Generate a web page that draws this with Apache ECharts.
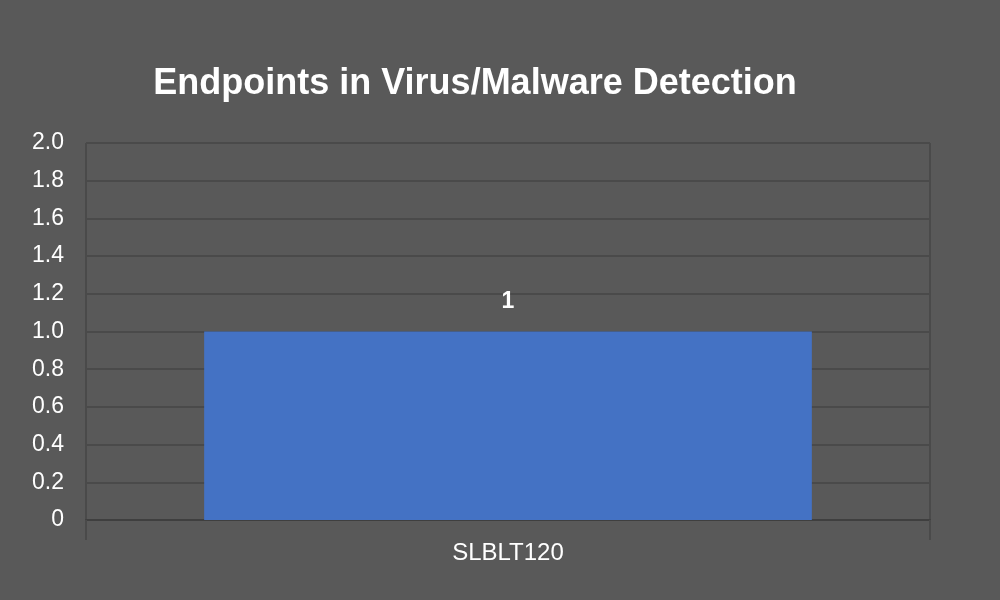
<!DOCTYPE html>
<html><head><meta charset="utf-8">
<script src="https://cdn.jsdelivr.net/npm/echarts@6/dist/echarts.min.js"></script>
<style>html,body{margin:0;padding:0;background:#595959;}#c{width:1000px;height:600px;}</style>
</head><body><div id="c"></div>
<script>
const categories = ['SLBLT120'];
const values = [1];
const chart = echarts.init(document.getElementById('c'));
chart.setOption({
  backgroundColor: '#595959',
  animation: false,
  title: {
    text: 'Endpoints in Virus/Malware Detection',
    left: 470, top: 61, textAlign: 'center',
    textStyle: {color: '#ffffff', fontSize: 36, fontWeight: 'bold', fontFamily: 'Liberation Sans'}
  },
  grid: {left: 86, right: 70, top: 143, bottom: 80, containLabel: false},
  xAxis: {
    type: 'category', data: categories,
    axisLine: {show: true, lineStyle: {color: '#3f3f3f', width: 2}},
    axisTick: {show: true, length: 20, lineStyle: {color: '#4a4a4a', width: 2}},
    splitLine: {show: true, lineStyle: {color: '#4a4a4a', width: 2}},
    axisLabel: {color: '#ffffff', fontSize: 24, fontFamily: 'Liberation Sans', margin: 21}
  },
  yAxis: {
    type: 'value', min: 0, max: 2, interval: 0.2,
    axisLine: {show: false}, axisTick: {show: false},
    splitLine: {show: true, lineStyle: {color: '#4a4a4a', width: 2}},
    axisLabel: {color: '#ffffff', fontSize: 23, fontFamily: 'Liberation Sans', margin: 22,
      formatter: v => v === 0 ? '0' : v.toFixed(1)}
  },
  series: [{
    type: 'bar', data: values, barWidth: '72%',
    itemStyle: {color: '#4472C4'},
    label: {show: true, position: 'top', distance: 18, color: '#ffffff', fontSize: 23, fontWeight: 'bold', fontFamily: 'Liberation Sans'}
  }]
});
</script></body></html>
